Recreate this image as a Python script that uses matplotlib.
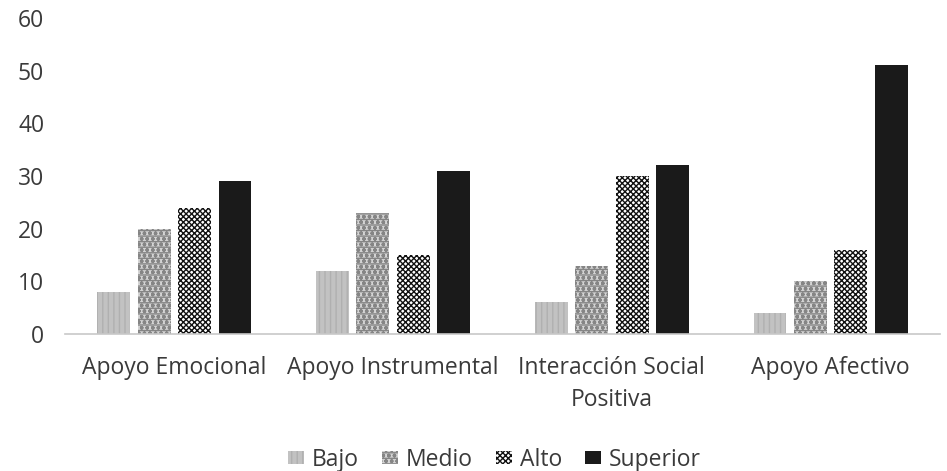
import matplotlib
matplotlib.use("Agg")
import matplotlib.pyplot as plt
import numpy as np

plt.rcParams['font.family'] = ['Open Sans', 'DejaVu Sans']
plt.rcParams['hatch.linewidth'] = 1.0

categorias = ['Apoyo Emocional', 'Apoyo Instrumental', 'Interacción Social\nPositiva', 'Apoyo Afectivo']
niveles = ['Bajo', 'Medio', 'Alto', 'Superior']
bajo = [8, 12, 6, 4]
medio = [20, 23, 13, 10]
alto = [24, 15, 30, 16]
superior = [29, 31, 32, 51]
series = [bajo, medio, alto, superior]

# estilos: relleno, trama, color de trama
estilos = [
    ('#c2c2c2', '|||', '#b0b0b0'),
    ('#d4d4d4', 'ooo---', '#858585'),
    ('white', 'xxxxxx', '#111111'),
    ('#1a1a1a', None, '#1a1a1a'),
]

fig = plt.figure(figsize=(9.47, 4.71), dpi=100)
ax = fig.add_axes([65 / 947, (471 - 334) / 471, 875 / 947, 316 / 471])

x = np.arange(len(categorias))
ancho = 0.15
paso = 0.185
for i, (vals, (fc, hatch, hc)) in enumerate(zip(series, estilos)):
    pos = x + (i - 1.5) * paso
    ax.bar(pos, vals, width=ancho, color=fc, hatch=hatch, edgecolor=hc,
           linewidth=0, label=niveles[i])

ax.set_xlim(-0.5, len(categorias) - 0.5)
ax.set_ylim(0, 60)
ax.set_yticks(range(0, 61, 10))
ax.set_xticks(x)
ax.set_xticklabels(categorias, linespacing=1.45)
ax.tick_params(axis='both', length=0, labelsize=16.5, colors='#3a3a3a')
ax.tick_params(axis='x', pad=16)
ax.tick_params(axis='y', pad=15)
for s in ['top', 'right', 'left']:
    ax.spines[s].set_visible(False)
ax.spines['bottom'].set_color('#c8c8c8')
ax.spines['bottom'].set_linewidth(1.2)

fig.legend(loc='lower center', ncol=4, frameon=False, fontsize=16.5,
           bbox_to_anchor=(0.522, -0.045), handlelength=0.7, handleheight=0.55,
           handletextpad=0.35, columnspacing=1.0, labelcolor='#3a3a3a')

fig.savefig('out.png', dpi=100)
